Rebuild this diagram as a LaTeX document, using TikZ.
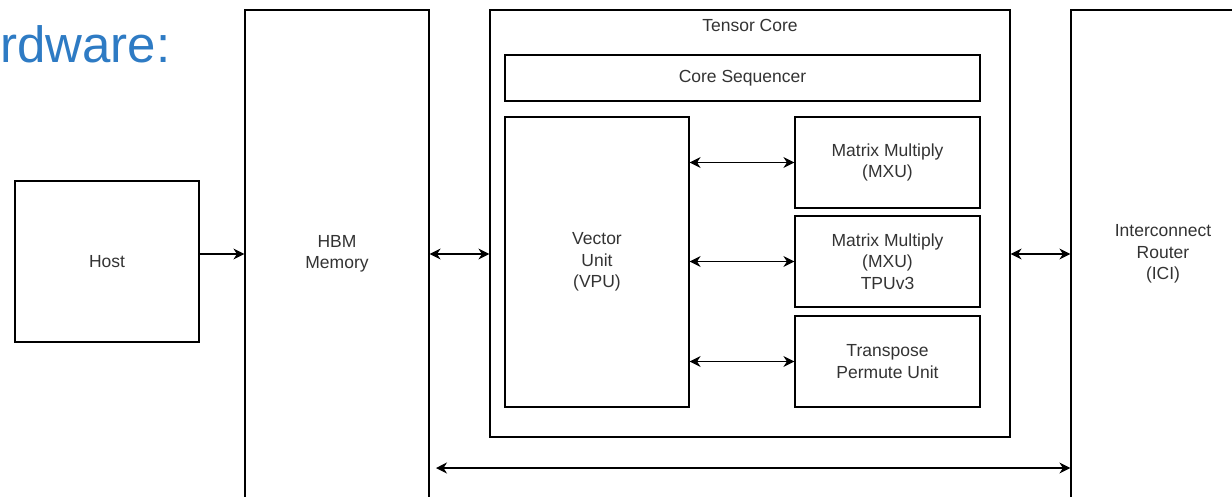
\documentclass[tikz,border=0pt]{standalone}
\usepackage{fontspec}
\setmainfont{Liberation Sans}
\usepackage{xcolor}
\usetikzlibrary{positioning,arrows.meta,calc}
\definecolor{txtgray}{HTML}{333333}
\definecolor{slideblue}{HTML}{2E7BC4}
\newcommand{\boxfont}{\fontsize{17.5}{21.5}\selectfont}

\begin{document}
\begin{tikzpicture}[
  x=1pt, y=-1pt,
  blk/.style={draw, line width=1.2pt, align=center, font=\boxfont, text=txtgray, inner sep=0pt},
  hd/.style={font=\boxfont, text=txtgray, inner sep=0pt},
  arr/.style={-{Stealth[length=11pt,width=11pt,inset=3.5pt]}, line width=1.3pt},
  darr/.style={{Stealth[length=11pt,width=11pt,inset=3.5pt]}-{Stealth[length=11pt,width=11pt,inset=3.5pt]}, line width=1.3pt}
]
\useasboundingbox (0,0) rectangle (1232,496);
\clip (0,0) rectangle (1232,496);

\node[anchor=base west, inner sep=0pt, text=slideblue, font=\fontsize{51}{60}\selectfont] (title) at (0,62) {rdware:};

\node[blk, minimum width=184pt, minimum height=161pt] (host) at (107,261.5) {Host};
\node[blk, minimum width=184pt, minimum height=488pt] (hbm) at (337,254) {HBM\\Memory};
\node[blk, minimum width=184pt, minimum height=488pt] (ici) at (1163,254) {Interconnect\\Router\\(ICI)};

% tensor core and its units
\node[blk, minimum width=520pt, minimum height=427pt] (tc) at (750,223.5) {};
\node[hd] (tclbl) at (750,25) {Tensor Core};
\node[blk, minimum width=475pt, minimum height=46pt] (seq) at (742.5,78) {Core Sequencer};
\node[blk, minimum width=184pt, minimum height=290pt] (vpu) at (597,262) {Vector\\Unit\\(VPU)};
\node[blk, minimum width=185pt, minimum height=91pt] (mxua) at (887.5,162.5) {Matrix Multiply\\(MXU)};
\node[blk, minimum width=185pt, minimum height=91pt] (mxub) at (887.5,261.5) {Matrix Multiply\\(MXU)\\TPUv3};
\node[blk, minimum width=185pt, minimum height=91pt] (perm) at (887.5,361.5) {Transpose\\Permute Unit};

\draw[arr] (host.east |- hbm.west) -- (hbm.west);
\draw[darr] (hbm.east) -- (hbm.east -| tc.west);
\draw[darr] (tc.east |- ici.west) -- (ici.west);
\foreach \m in {mxua,mxub,perm}
  \draw[darr] (vpu.east |- \m.west) -- (\m.west);

\coordinate (busl) at (436,468);
\draw[darr] (busl) -- (busl -| ici.west);
\end{tikzpicture}
\end{document}
